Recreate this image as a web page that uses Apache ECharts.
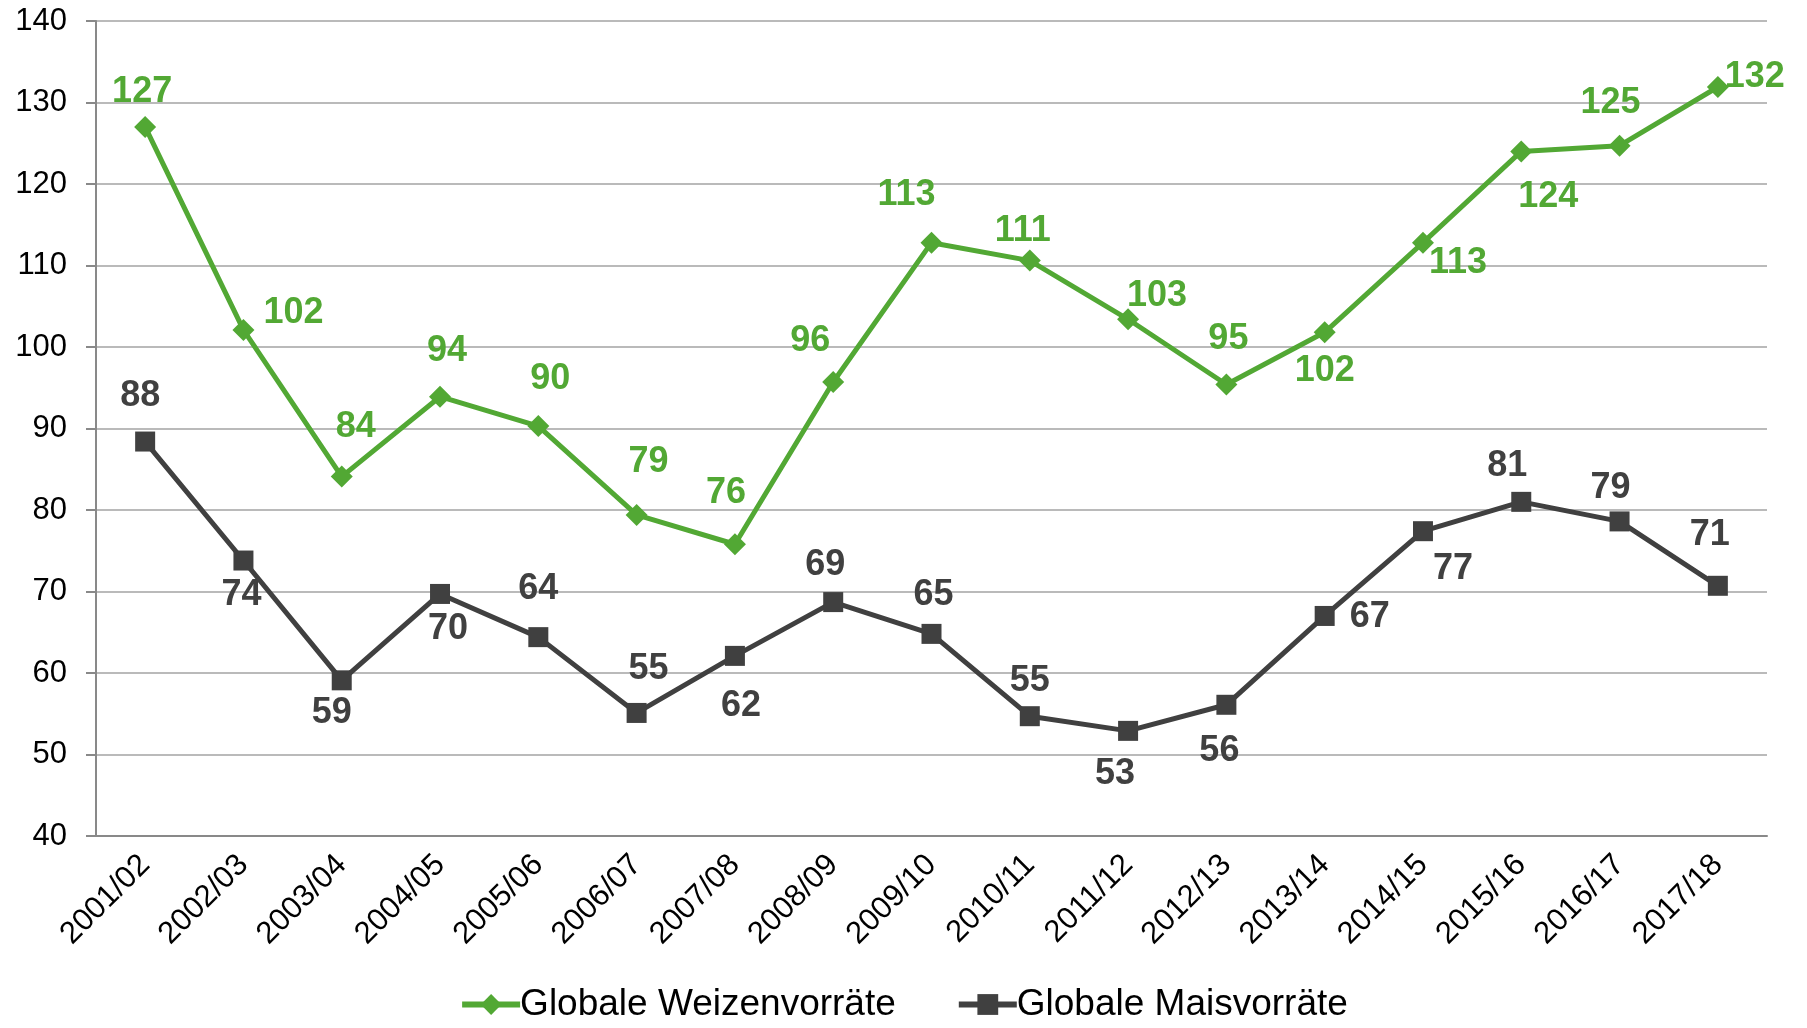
<!DOCTYPE html>
<html>
<head>
<meta charset="utf-8">
<script src="https://cdn.jsdelivr.net/npm/echarts@6/dist/echarts.min.js"></script>
<style>
  html, body { margin: 0; padding: 0; background: #fff; }
  #chart { width: 1807px; height: 1028px; }
</style>
</head>
<body>
<div id="chart"></div>
<script>
var years = ['2001/02', '2002/03', '2003/04', '2004/05', '2005/06', '2006/07', '2007/08', '2008/09',
  '2009/10', '2010/11', '2011/12', '2012/13', '2013/14', '2014/15', '2015/16', '2016/17', '2017/18'];
var weizen = [127.0, 102.1, 84.1, 93.9, 90.3, 79.4, 75.8, 95.7, 112.8, 110.6, 103.4, 95.4, 101.8, 112.8, 124.0, 124.7, 131.9];
var mais = [88.4, 73.8, 59.1, 69.7, 64.4, 55.1, 62.1, 68.7, 64.8, 54.7, 52.9, 56.1, 67.0, 77.4, 81.0, 78.6, 70.7];

// label offsets (px) from the marker, as in the original
var weizenOff = [[-3,-35],[50,-17],[14,-50],[7,-46],[12,-47],[12,-53],[-9,-51],[-23,-41],[-25,-48],
  [-7,-30],[29,-23],[2,-45],[0,39],[35,20],[27,46],[-9,-43],[37,-10]];
var maisOff = [[-5,-45],[-2,35],[-10,33],[8,35],[0,-48],[12,-44],[6,50],[-8,-37],[2,-39],
  [0,-35],[-13,43],[-7,46],[45,1],[30,38],[-14,-36],[-9,-33],[-8,-51]];

var green = '#52a834';
var grey = '#404040';
var font = '"Liberation Sans", Arial, sans-serif';

function withLabels(vals, offs) {
  return vals.map(function (v, i) {
    return { value: v, label: { offset: offs[i] } };
  });
}

var myChart = echarts.init(document.getElementById('chart'));
var option = {
  animation: false,
  textStyle: { fontFamily: font },
  grid: { left: 96, top: 21, right: 40, bottom: 192, containLabel: false },
  legend: {
    left: 'center',
    bottom: 0,
    itemWidth: 58,
    itemHeight: 26,
    itemGap: 60,
    lineStyle: { width: 6 },
    textStyle: { fontFamily: font, fontSize: 37, color: '#000', padding: [0, 0, 0, -5] },
    data: ['Globale Weizenvorräte', 'Globale Maisvorräte']
  },
  xAxis: {
    type: 'category',
    data: years,
    boundaryGap: true,
    axisLine: { lineStyle: { color: '#898989', width: 2 } },
    axisTick: { alignWithLabel: true, length: 6, lineStyle: { color: '#898989', width: 2 } },
    axisLabel: { rotate: 45, margin: 24, fontSize: 31, color: '#000', fontFamily: font, interval: 0 }
  },
  yAxis: {
    type: 'value',
    min: 40,
    max: 140,
    interval: 10,
    axisLine: { show: true, lineStyle: { color: '#898989', width: 2 } },
    axisTick: { show: true, length: 10, lineStyle: { color: '#898989', width: 2 } },
    axisLabel: { margin: 29, fontSize: 31, color: '#000', fontFamily: font },
    splitLine: { lineStyle: { color: '#a3a3a3', width: 1.5 } }
  },
  series: [{
    name: 'Globale Weizenvorräte',
    type: 'line',
    data: withLabels(weizen, weizenOff),
    symbol: 'diamond',
    symbolSize: 22,
    color: green,
    lineStyle: { color: green, width: 5 },
    itemStyle: { color: green },
    label: {
      show: true,
      position: 'inside',
      fontSize: 36,
      fontWeight: 'bold',
      color: green,
      fontFamily: font,
      formatter: function (p) { return Math.round(p.value); }
    }
  }, {
    name: 'Globale Maisvorräte',
    type: 'line',
    data: withLabels(mais, maisOff),
    symbol: 'rect',
    symbolSize: 20,
    color: grey,
    lineStyle: { color: grey, width: 5 },
    itemStyle: { color: grey },
    label: {
      show: true,
      position: 'inside',
      fontSize: 36,
      fontWeight: 'bold',
      color: grey,
      fontFamily: font,
      formatter: function (p) { return Math.round(p.value); }
    }
  }]
};
myChart.setOption(option);
</script>
</body>
</html>
